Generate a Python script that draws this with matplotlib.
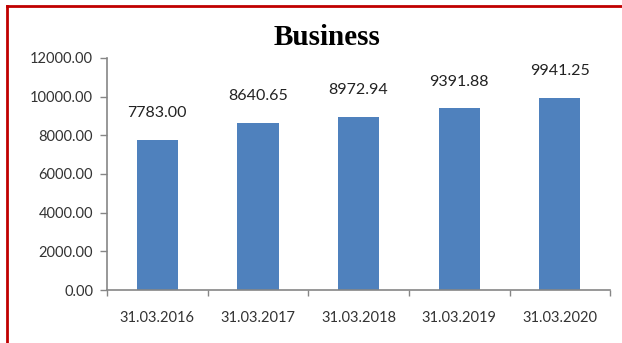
import matplotlib.pyplot as plt
from matplotlib.lines import Line2D
import numpy as np

dates = ["31.03.2016", "31.03.2017", "31.03.2018", "31.03.2019", "31.03.2020"]
business = [7783.00, 8640.65, 8972.94, 9391.88, 9941.25]
yticks = [0, 2000, 4000, 6000, 8000, 10000, 12000]

fig = plt.figure(figsize=(6.22, 3.43), dpi=100)
ax = fig.add_axes([0.172, 0.1545, 0.809, 0.6765])

x = np.arange(len(dates))
ax.bar(x, business, width=0.41, color="#4f81bd", zorder=2)
for xi, v in zip(x, business):
    ax.annotate(f"{v:.2f}", (xi, v), xytext=(0, 14), textcoords="offset points",
                ha="center", va="bottom", fontsize=11.5, family="Lato", color="#222222")

ax.set_xlim(-0.5, len(dates) - 0.5)
ax.set_ylim(0, 12000)
ax.set_yticks(yticks)
ax.set_yticklabels([f"{t:.2f}" for t in yticks])
ax.set_xticks(x)
ax.set_xticklabels(dates)
ax.set_xticks(np.arange(-0.5, len(dates)), minor=True)

gray = "#868686"
for s in ["top", "right"]:
    ax.spines[s].set_visible(False)
for s in ["left", "bottom"]:
    ax.spines[s].set_color(gray)
    ax.spines[s].set_linewidth(1.2)
ax.tick_params(axis="y", length=5, width=1, color=gray, labelsize=10.5, pad=5, labelcolor="#333333")
ax.tick_params(axis="x", which="major", length=0, labelsize=10.5, pad=15, labelcolor="#333333")
ax.tick_params(axis="x", which="minor", length=4, width=1, color=gray)
for lab in ax.get_xticklabels() + ax.get_yticklabels():
    lab.set_family("Lato")

fig.text(0.526, 0.892, "Business", ha="center", va="center", fontsize=21,
         fontweight="bold", family="Liberation Serif")

# red frame along the top and left edges
fig.add_artist(Line2D([0.0113, 0.0113], [0, 0.983], color="#c00000", lw=2, transform=fig.transFigure))
fig.add_artist(Line2D([0.0113, 1.0], [0.983, 0.983], color="#c00000", lw=2, transform=fig.transFigure))

fig.savefig("out.png", dpi=100)
